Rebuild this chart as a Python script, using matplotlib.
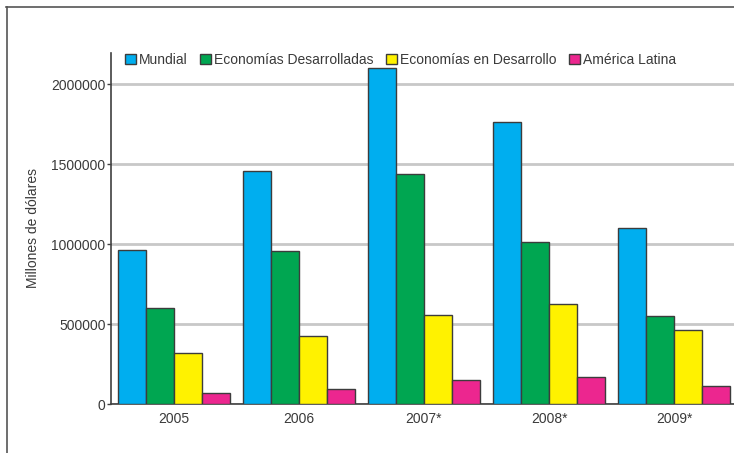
import numpy as np
import matplotlib.pyplot as plt
from matplotlib.lines import Line2D

# --- Data (millones de dólares) ---
years = ["2005", "2006", "2007*", "2008*", "2009*"]
series_names = ["Mundial", "Economías Desarrolladas", "Economías en Desarrollo", "América Latina"]
mundial = [960000, 1455000, 2100000, 1760000, 1098000]
desarrolladas = [602000, 958000, 1440000, 1010000, 552000]
en_desarrollo = [319000, 423000, 554000, 627000, 465000]
america_latina = [71000, 92000, 150000, 171000, 112000]

colors = ["#00AEEF", "#00A651", "#FFF200", "#EC268F"]
text_color = "#3a3a3a"

plt.rcParams['font.family'] = ['Liberation Sans', 'DejaVu Sans']

fig = plt.figure(figsize=(7.34, 4.53), dpi=100)
ax = fig.add_axes([111 / 734, 49 / 453, 1 - 111 / 734, 351 / 453])

x = np.arange(len(years))
width = 0.224
all_series = [mundial, desarrolladas, en_desarrollo, america_latina]
for i, (vals, name, c) in enumerate(zip(all_series, series_names, colors)):
    ax.bar(x + (i - 1.5) * width, vals, width, color=c, edgecolor="#3c3c3c",
           linewidth=1.0, label=name, zorder=3)

ax.set_xlim(-0.504, 4.48)
ax.set_ylim(0, 2193750)
ax.set_yticks([0, 500000, 1000000, 1500000, 2000000])
ax.set_yticklabels(["0", "500000", "1000000", "1500000", "2000000"])
ax.set_xticks(x)
ax.set_xticklabels(years)

ax.grid(axis='y', color="#c8c8c8", linewidth=2, zorder=0)
ax.set_axisbelow(True)
for s in ["top", "right"]:
    ax.spines[s].set_visible(False)
for s in ["left", "bottom"]:
    ax.spines[s].set_color("#404040")
    ax.spines[s].set_linewidth(1.2)

ax.tick_params(axis='x', length=0, pad=6, labelsize=10, labelcolor=text_color)
ax.tick_params(axis='y', length=3, width=1, color="#404040", pad=1,
               labelsize=10, labelcolor=text_color)
ax.set_ylabel("Millones de dólares", fontsize=10, color=text_color)
ax.yaxis.set_label_coords((40 - 111) / 623, 0.5)

fig.legend(loc="center", bbox_to_anchor=(0.546, 0.8675), ncol=4, frameon=False,
           fontsize=10, handlelength=0.75, handleheight=0.75, handletextpad=0.25,
           columnspacing=0.9, labelcolor=text_color)

# outer frame (top and left only)
fig.add_artist(Line2D([6 / 734, 1], [1 - 7 / 453, 1 - 7 / 453], color="#555555", lw=1.2))
fig.add_artist(Line2D([7 / 734, 7 / 734], [0, 1 - 7 / 453], color="#555555", lw=1.2))

fig.savefig("out.png", dpi=100)
